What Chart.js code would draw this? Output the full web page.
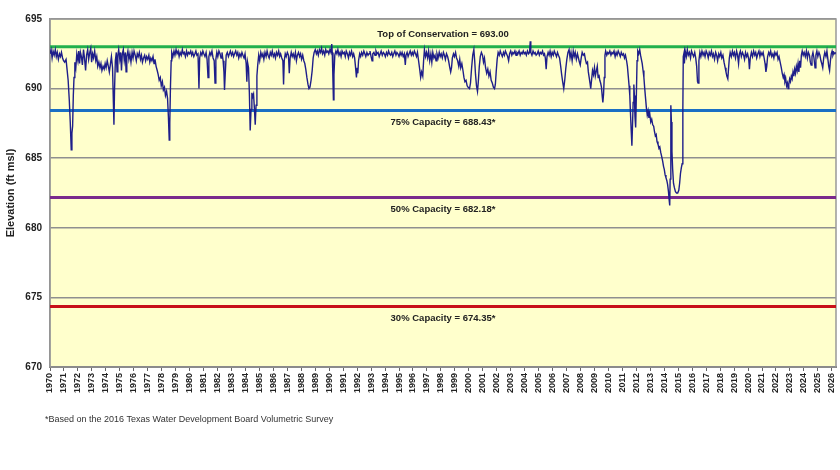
<!DOCTYPE html>
<html><head><meta charset="utf-8">
<script src="https://cdn.jsdelivr.net/npm/chart.js@4/dist/chart.umd.min.js"></script>
<style>html,body{margin:0;padding:0;background:#fff;}#wrap{position:relative;width:840px;height:470px;}</style>
</head><body><div id="wrap"><canvas id="c" width="840" height="470"></canvas></div>
<script>
// ---- DATA ----
const yearTicks = [];
for (let y = 1970; y <= 2026; y++) yearTicks.push(y);
const elevTicks = [670, 675, 680, 685, 690, 695];
const refLevels = [693.00, 688.43, 682.18, 674.35];
const refLabels = ["Top of Conservation = 693.00", "75% Capacity = 688.43*", "50% Capacity = 682.18*", "30% Capacity = 674.35*"];
const footnote = "*Based on the 2016 Texas Water Development Board Volumetric Survey";
const axisTitle = "Elevation (ft msl)";

// [decimal year, elevation ft msl]
const elevationSeries = [
[1970.00,692.5],[1970.08,692.8],[1970.15,692.2],[1970.22,692.7],[1970.30,692.4],[1970.38,692.8],[1970.45,692.3],[1970.52,692.6],[1970.60,692.1],[1970.68,692.5],[1970.75,692.3],[1970.82,692.6],[1970.90,692.2],[1970.97,692.0],
[1971.05,691.9],[1971.15,692.1],[1971.22,691.4],[1971.30,690.6],[1971.38,689.2],[1971.45,687.6],[1971.52,685.6],[1971.57,686.8],[1971.62,687.3],[1971.67,689.5],[1971.72,690.8],[1971.78,691.9],[1971.85,691.5],[1971.92,692.5],
[1972.00,692.0],[1972.06,692.7],[1972.12,691.8],[1972.18,692.6],[1972.25,692.3],[1972.32,691.7],[1972.40,692.8],[1972.47,692.2],[1972.55,691.3],[1972.62,692.4],[1972.70,692.8],[1972.77,692.1],[1972.85,692.6],[1972.92,692.9],[1972.98,691.9],
[1973.05,692.5],[1973.12,692.2],[1973.20,692.7],[1973.28,692.0],[1973.35,692.3],[1973.42,691.6],[1973.50,691.9],[1973.58,691.5],[1973.65,691.8],[1973.72,691.3],[1973.80,691.6],[1973.88,691.4],[1973.95,691.8],
[1974.02,691.5],[1974.10,692.0],[1974.18,691.6],[1974.25,691.2],[1974.32,691.7],[1974.40,692.3],[1974.48,691.5],[1974.54,689.0],[1974.58,687.4],[1974.62,689.8],[1974.68,692.0],[1974.75,692.6],[1974.80,691.2],[1974.86,692.4],[1974.92,692.8],
[1975.00,692.1],[1975.06,692.6],[1975.12,691.3],[1975.18,692.5],[1975.25,692.8],[1975.32,692.0],[1975.40,692.6],[1975.45,691.2],[1975.50,692.3],[1975.58,692.7],[1975.65,692.1],[1975.72,692.5],[1975.80,691.9],[1975.88,692.6],[1975.95,692.2],
[1976.02,692.7],[1976.10,692.4],[1976.18,692.0],[1976.25,692.5],[1976.32,692.3],[1976.40,692.6],[1976.48,692.1],[1976.55,692.4],[1976.62,691.9],[1976.70,692.2],[1976.78,692.4],[1976.85,692.0],[1976.92,692.3],
[1977.00,692.1],[1977.08,692.4],[1977.15,691.9],[1977.22,692.2],[1977.30,692.0],[1977.38,692.3],[1977.45,691.8],[1977.52,692.1],[1977.60,691.6],[1977.68,691.3],[1977.75,691.0],[1977.82,690.6],[1977.90,690.8],[1977.97,690.2],
[1978.05,690.5],[1978.12,689.9],[1978.20,690.1],[1978.27,689.5],[1978.35,689.8],[1978.42,689.3],[1978.48,688.0],[1978.54,686.3],[1978.58,687.5],[1978.63,690.2],[1978.68,692.0],[1978.72,692.6],[1978.80,692.3],[1978.88,692.7],[1978.95,692.4],
[1979.03,692.8],[1979.10,692.5],[1979.18,692.7],[1979.25,692.3],[1979.32,692.6],[1979.40,692.4],[1979.48,692.8],[1979.55,692.5],[1979.62,692.6],[1979.70,692.3],[1979.78,692.7],[1979.85,692.4],[1979.92,692.6],
[1980.00,692.5],[1980.08,692.7],[1980.15,692.4],[1980.22,692.6],[1980.30,692.3],[1980.38,692.5],[1980.45,692.7],[1980.52,692.4],[1980.60,692.5],[1980.67,690.0],[1980.72,692.2],[1980.80,692.6],[1980.88,692.4],[1980.95,692.7],
[1981.02,692.5],[1981.10,692.3],[1981.18,692.6],[1981.25,692.1],[1981.32,690.8],[1981.38,692.3],[1981.45,692.6],[1981.52,692.4],[1981.60,692.7],[1981.68,692.2],[1981.76,692.0],[1981.82,690.4],[1981.88,692.1],[1981.95,692.6],
[1982.02,692.3],[1982.10,692.7],[1982.18,692.5],[1982.25,692.2],[1982.32,692.6],[1982.40,692.0],[1982.46,691.2],[1982.50,689.9],[1982.55,691.0],[1982.62,692.4],[1982.70,692.6],[1982.78,692.3],[1982.85,692.5],[1982.92,692.7],
[1983.00,692.4],[1983.08,692.6],[1983.15,692.3],[1983.22,692.5],[1983.30,692.7],[1983.38,692.4],[1983.45,692.6],[1983.52,692.2],[1983.60,692.5],[1983.68,692.3],[1983.75,692.6],[1983.82,692.4],[1983.90,692.2],[1983.97,692.5],
[1984.05,691.8],[1984.10,690.5],[1984.15,691.9],[1984.22,691.5],[1984.28,689.7],[1984.34,687.0],[1984.40,688.5],[1984.46,689.7],[1984.52,689.4],[1984.58,689.6],[1984.64,688.6],[1984.70,687.4],[1984.76,688.8],[1984.82,690.9],[1984.88,691.7],[1984.95,692.4],
[1985.02,692.0],[1985.10,692.6],[1985.18,692.3],[1985.25,692.5],[1985.32,692.1],[1985.40,692.6],[1985.48,692.3],[1985.55,692.7],[1985.62,692.4],[1985.70,692.2],[1985.78,692.6],[1985.85,692.4],[1985.92,692.7],
[1986.00,692.3],[1986.08,692.5],[1986.15,692.2],[1986.22,692.6],[1986.30,692.4],[1986.38,692.7],[1986.45,692.3],[1986.52,692.5],[1986.60,692.2],[1986.68,692.0],[1986.73,690.3],[1986.78,692.0],[1986.85,692.5],[1986.92,692.3],
[1987.00,692.6],[1987.08,692.4],[1987.14,691.1],[1987.20,692.2],[1987.28,692.6],[1987.35,692.3],[1987.42,692.5],[1987.50,692.2],[1987.58,692.6],[1987.65,692.0],[1987.72,692.4],[1987.80,692.6],[1987.88,692.3],[1987.95,692.5],
[1988.02,692.1],[1988.10,692.4],[1988.18,692.0],[1988.25,691.8],[1988.32,691.4],[1988.40,690.8],[1988.48,690.3],[1988.55,690.0],[1988.62,690.1],[1988.70,690.6],[1988.78,691.3],[1988.85,692.2],[1988.92,692.6],
[1989.00,692.8],[1989.08,692.5],[1989.15,692.7],[1989.22,692.4],[1989.30,692.8],[1989.38,692.6],[1989.45,692.9],[1989.52,692.5],[1989.60,692.7],[1989.68,692.4],[1989.75,692.8],[1989.82,692.6],[1989.90,692.7],[1989.97,692.5],
[1990.05,692.8],[1990.12,692.6],[1990.18,693.2],[1990.22,692.6],[1990.27,690.5],[1990.30,689.2],[1990.34,691.0],[1990.40,692.4],[1990.48,692.7],[1990.55,692.5],[1990.62,692.8],[1990.70,692.4],[1990.78,692.6],[1990.85,692.3],[1990.92,692.7],
[1991.00,692.5],[1991.08,692.6],[1991.15,692.3],[1991.22,692.7],[1991.30,692.5],[1991.38,692.2],[1991.45,692.6],[1991.52,692.4],[1991.60,692.7],[1991.68,692.3],[1991.75,692.5],[1991.82,692.2],[1991.88,691.6],[1991.95,690.8],
[1992.00,691.5],[1992.05,691.1],[1992.10,692.0],[1992.18,692.5],[1992.25,692.3],[1992.32,692.6],[1992.40,692.4],[1992.48,692.7],[1992.55,692.5],[1992.62,692.3],[1992.70,692.6],[1992.78,692.4],[1992.85,692.5],[1992.92,692.7],
[1993.00,692.3],[1993.07,692.0],[1993.12,692.5],[1993.20,692.6],[1993.28,692.4],[1993.35,692.7],[1993.42,692.5],[1993.50,692.6],[1993.58,692.3],[1993.65,692.5],[1993.72,692.7],[1993.80,692.4],[1993.88,692.6],[1993.95,692.5],
[1994.02,692.3],[1994.10,692.6],[1994.18,692.4],[1994.25,692.7],[1994.32,692.5],[1994.40,692.4],[1994.48,692.6],[1994.55,692.3],[1994.62,692.5],[1994.70,692.7],[1994.78,692.4],[1994.85,692.6],[1994.92,692.5],
[1995.00,692.3],[1995.08,692.6],[1995.15,692.4],[1995.22,692.6],[1995.30,692.3],[1995.38,692.5],[1995.45,691.7],[1995.50,692.4],[1995.58,692.6],[1995.65,692.3],[1995.72,692.5],[1995.80,692.7],[1995.88,692.4],[1995.95,692.6],
[1996.02,692.4],[1996.10,692.7],[1996.18,692.5],[1996.25,692.3],[1996.32,692.6],[1996.40,692.0],[1996.48,691.4],[1996.55,690.8],[1996.62,691.2],[1996.70,690.9],[1996.76,692.0],[1996.82,692.8],[1996.90,692.3],[1996.97,692.6],
[1997.05,692.2],[1997.12,692.7],[1997.20,692.0],[1997.28,692.5],[1997.35,691.9],[1997.42,692.6],[1997.50,692.2],[1997.58,692.4],[1997.65,692.0],[1997.72,692.5],[1997.80,692.2],[1997.88,692.6],[1997.95,692.3],
[1998.02,692.5],[1998.10,692.2],[1998.18,692.6],[1998.25,692.4],[1998.32,692.1],[1998.40,692.5],[1998.48,692.3],[1998.55,692.0],[1998.62,691.6],[1998.70,691.2],[1998.76,691.5],[1998.82,692.2],[1998.90,692.5],[1998.97,692.3],
[1999.05,692.6],[1999.12,692.2],[1999.20,692.0],[1999.28,691.6],[1999.35,692.1],[1999.42,691.5],[1999.50,691.8],[1999.58,691.3],[1999.65,690.8],[1999.72,690.5],[1999.80,690.6],[1999.88,690.2],[1999.95,690.1],
[2000.05,690.0],[2000.12,690.4],[2000.20,691.5],[2000.28,692.4],[2000.36,692.8],[2000.42,692.0],[2000.48,691.0],[2000.55,690.2],[2000.62,689.8],[2000.68,690.5],[2000.75,691.6],[2000.82,692.3],[2000.90,692.6],[2000.98,692.4],
[2001.05,691.9],[2001.12,692.2],[2001.20,691.5],[2001.28,691.1],[2001.36,691.4],[2001.44,690.9],[2001.52,691.2],[2001.60,690.6],[2001.68,690.4],[2001.76,690.1],[2001.84,690.0],[2001.90,690.3],[2001.96,691.2],
[2002.03,692.1],[2002.10,692.6],[2002.18,692.4],[2002.25,692.7],[2002.32,692.5],[2002.40,692.3],[2002.48,692.6],[2002.55,692.4],[2002.62,692.7],[2002.70,692.5],[2002.78,692.3],[2002.85,692.0],[2002.92,692.5],
[2003.00,692.7],[2003.08,692.4],[2003.15,692.6],[2003.22,692.5],[2003.30,692.7],[2003.38,692.4],[2003.45,692.6],[2003.52,692.5],[2003.60,692.7],[2003.68,692.4],[2003.75,692.6],[2003.82,692.5],[2003.90,692.7],[2003.97,692.5],
[2004.05,692.6],[2004.12,692.4],[2004.20,692.7],[2004.28,692.5],[2004.35,692.6],[2004.40,693.4],[2004.44,692.6],[2004.52,692.4],[2004.60,692.7],[2004.68,692.5],[2004.75,692.6],[2004.82,692.4],[2004.90,692.5],[2004.97,692.7],
[2005.05,692.4],[2005.12,692.6],[2005.20,692.5],[2005.28,692.7],[2005.35,692.4],[2005.42,692.5],[2005.48,692.2],[2005.54,691.4],[2005.60,692.3],[2005.68,692.6],[2005.75,692.4],[2005.82,692.7],[2005.90,692.3],[2005.97,692.6],
[2006.05,692.4],[2006.12,692.7],[2006.20,692.5],[2006.28,692.3],[2006.35,692.6],[2006.42,692.4],[2006.50,692.2],[2006.58,691.6],[2006.65,691.0],[2006.72,690.5],[2006.80,690.0],[2006.87,690.6],[2006.94,691.4],
[2007.02,692.1],[2007.10,692.6],[2007.18,692.8],[2007.25,692.2],[2007.32,692.6],[2007.40,692.0],[2007.48,692.7],[2007.55,692.3],[2007.62,692.6],[2007.70,692.1],[2007.78,692.5],[2007.85,692.2],[2007.92,691.9],[2007.98,691.7],
[2008.05,692.2],[2008.12,692.6],[2008.20,692.4],[2008.28,692.5],[2008.35,692.1],[2008.42,691.8],[2008.50,691.9],[2008.56,691.2],[2008.62,690.8],[2008.68,690.4],[2008.73,690.0],[2008.80,690.7],[2008.86,691.3],[2008.93,691.0],
[2009.00,691.5],[2009.06,690.9],[2009.12,691.2],[2009.20,691.6],[2009.26,690.8],[2009.32,691.0],[2009.38,690.6],[2009.44,690.4],[2009.50,690.1],[2009.56,689.4],[2009.60,689.0],[2009.65,689.6],[2009.70,690.8],[2009.75,692.4],[2009.80,692.7],[2009.88,692.4],[2009.95,692.6],
[2010.02,692.5],[2010.10,692.7],[2010.18,692.4],[2010.25,692.6],[2010.32,692.5],[2010.40,692.7],[2010.48,692.3],[2010.55,692.6],[2010.62,692.4],[2010.70,692.7],[2010.78,692.5],[2010.85,692.3],[2010.92,692.6],
[2011.00,692.4],[2011.08,692.5],[2011.15,692.2],[2011.22,692.4],[2011.30,692.0],[2011.36,691.6],[2011.42,690.9],[2011.48,690.2],[2011.53,689.5],[2011.58,688.2],[2011.63,687.0],[2011.68,685.9],[2011.72,687.2],[2011.77,689.0],[2011.82,690.3],[2011.86,689.5],[2011.90,688.0],[2011.95,687.2],
[2012.00,689.5],[2012.05,692.0],[2012.10,692.7],[2012.17,692.5],[2012.24,692.8],[2012.30,692.4],[2012.36,692.1],[2012.42,691.8],[2012.48,691.3],[2012.54,690.8],[2012.60,690.0],[2012.66,689.3],[2012.72,688.6],[2012.78,688.1],[2012.84,688.4],[2012.90,687.9],[2012.96,688.2],
[2013.03,687.6],[2013.10,687.8],[2013.17,687.4],[2013.24,687.3],[2013.30,686.9],[2013.36,686.6],[2013.42,686.7],[2013.48,686.2],[2013.55,686.0],[2013.62,685.7],[2013.68,685.8],[2013.75,685.4],[2013.82,685.1],[2013.88,684.8],[2013.95,684.4],
[2014.00,684.2],[2014.06,683.8],[2014.12,683.6],[2014.18,683.4],[2014.24,683.1],[2014.30,682.6],[2014.35,682.0],[2014.39,681.6],[2014.42,683.5],[2014.46,687.0],[2014.48,688.8],[2014.51,687.6],[2014.55,685.5],[2014.60,684.2],[2014.66,683.2],[2014.72,682.9],[2014.80,682.6],[2014.88,682.5],[2014.96,682.5],
[2015.04,682.7],[2015.10,683.2],[2015.16,683.9],[2015.22,684.3],[2015.28,684.6],[2015.33,688.5],[2015.36,692.3],[2015.42,692.6],[2015.44,691.8],[2015.50,692.7],[2015.58,692.3],[2015.65,692.8],[2015.72,692.4],[2015.80,692.6],[2015.88,692.2],[2015.95,692.7],
[2016.02,692.5],[2016.10,692.3],[2016.18,692.6],[2016.25,692.2],[2016.32,691.6],[2016.38,690.5],[2016.42,690.4],[2016.48,692.0],[2016.55,692.6],[2016.62,692.3],[2016.70,692.7],[2016.78,692.4],[2016.85,692.6],[2016.92,692.3],
[2017.00,692.7],[2017.08,692.5],[2017.15,692.2],[2017.22,692.6],[2017.30,692.4],[2017.38,692.7],[2017.45,692.3],[2017.52,692.5],[2017.60,692.1],[2017.68,692.6],[2017.75,692.4],[2017.82,692.0],[2017.90,692.5],[2017.97,692.3],
[2018.05,692.6],[2018.12,692.2],[2018.20,692.4],[2018.28,691.9],[2018.36,691.5],[2018.42,691.2],[2018.48,690.9],[2018.55,690.7],[2018.60,691.4],[2018.66,692.2],[2018.72,692.6],[2018.80,692.3],[2018.88,692.7],[2018.95,692.4],
[2019.02,692.6],[2019.10,692.2],[2019.18,692.7],[2019.25,692.4],[2019.32,691.8],[2019.38,692.5],[2019.45,692.7],[2019.52,692.3],[2019.60,692.6],[2019.68,692.4],[2019.75,692.1],[2019.82,692.6],[2019.90,692.3],[2019.97,692.5],
[2020.05,692.1],[2020.10,691.4],[2020.16,692.2],[2020.24,692.6],[2020.32,692.3],[2020.40,692.7],[2020.48,692.4],[2020.55,692.6],[2020.62,692.2],[2020.70,692.5],[2020.78,692.7],[2020.85,692.3],[2020.92,692.6],
[2021.00,692.4],[2021.08,692.6],[2021.15,692.2],[2021.22,691.8],[2021.28,691.2],[2021.34,691.6],[2021.40,692.3],[2021.48,692.6],[2021.55,692.4],[2021.62,692.7],[2021.70,692.3],[2021.78,692.5],[2021.85,692.2],[2021.92,692.6],
[2022.00,692.4],[2022.08,692.6],[2022.15,692.1],[2022.22,692.3],[2022.30,691.9],[2022.38,691.5],[2022.45,691.1],[2022.52,690.8],[2022.58,691.0],[2022.64,690.5],[2022.70,690.7],[2022.76,690.2],[2022.82,690.4],[2022.87,690.0],[2022.92,690.3],[2022.98,690.7],
[2023.04,690.5],[2023.10,690.9],[2023.16,690.7],[2023.22,691.2],[2023.28,690.9],[2023.34,691.4],[2023.40,691.1],[2023.46,691.6],[2023.52,691.3],[2023.58,691.8],[2023.64,691.2],[2023.70,692.0],[2023.76,691.5],[2023.82,692.4],[2023.88,692.7],[2023.95,692.4],
[2024.02,692.6],[2024.10,692.3],[2024.18,692.7],[2024.25,692.2],[2024.32,692.6],[2024.40,692.4],[2024.46,691.9],[2024.52,691.7],[2024.58,692.3],[2024.65,692.6],[2024.72,692.2],[2024.80,691.5],[2024.86,692.4],[2024.93,692.7],
[2025.00,692.3],[2025.08,692.6],[2025.15,692.4],[2025.22,692.0],[2025.28,691.8],[2025.35,691.5],[2025.42,692.2],[2025.50,692.6],[2025.58,692.3],[2025.65,692.7],[2025.72,692.1],[2025.78,691.6],[2025.84,691.3],[2025.90,692.0],[2025.96,692.5],
[2026.02,692.7],[2026.08,692.4],[2026.15,692.6],[2026.22,692.5],[2026.28,692.6]
];

// ---- STYLE ----
const refColors = ['#22b14c', '#1a6fc4', '#7a2a8c', '#c8101a'];
const X_MIN = 1970, X_MAX = 2026.3;
const FONT = "'Liberation Sans', Arial, sans-serif";
Chart.defaults.font.family = FONT;

const decor = {
  id: 'decor',
  beforeDraw(chart) {
    const {ctx, chartArea: a} = chart;
    ctx.save();
    ctx.fillStyle = '#ffffff';
    ctx.fillRect(0, 0, chart.width, chart.height);
    ctx.fillStyle = '#ffffcc';
    ctx.fillRect(a.left, a.top, a.right - a.left, a.bottom - a.top);
    ctx.restore();
  },
  beforeDatasetsDraw(chart) {
    const {ctx, chartArea: a} = chart;
    ctx.save();
    ctx.strokeStyle = '#999999';
    ctx.lineWidth = 1.5;
    ctx.strokeRect(a.left, a.top, a.right - a.left, a.bottom - a.top);
    ctx.restore();
  },
  afterDraw(chart) {
    const {ctx, chartArea: a, scales} = chart;
    const cx = 443;
    ctx.save();
    ctx.fillStyle = '#222';
    ctx.textAlign = 'center';
    ctx.textBaseline = 'middle';
    ctx.font = "bold 9.5px " + FONT;
    refLevels.forEach((v, i) => {
      const py = scales.y.getPixelForValue(v);
      const off = i === 0 ? -12 : 12;
      ctx.fillText(refLabels[i], cx, py + off);
    });
    ctx.textAlign = 'left';
    ctx.font = "9px " + FONT;
    ctx.fillStyle = '#333';
    ctx.fillText(footnote, 45, 420);
    ctx.restore();
  }
};

const datasets = [{
  label: 'Elevation',
  data: elevationSeries.map(p => ({x: p[0], y: p[1]})),
  borderColor: '#1e1e8a',
  borderWidth: 1.4,
  pointRadius: 0,
  tension: 0,
  order: 0
}].concat(refLevels.map((v, i) => ({
  label: refLabels[i],
  data: [{x: X_MIN, y: v}, {x: X_MAX, y: v}],
  borderColor: refColors[i],
  borderWidth: 3,
  pointRadius: 0,
  order: 1
})));

new Chart(document.getElementById('c'), {
  type: 'line',
  data: {datasets},
  plugins: [decor],
  options: {
    responsive: false,
    animation: false,
    events: [],
    layout: {padding: {top: 19, right: 4, left: 0, bottom: 0}},
    plugins: {legend: {display: false}, tooltip: {enabled: false}},
    scales: {
      x: {
        type: 'linear', min: X_MIN, max: X_MAX,
        afterBuildTicks(s) { s.ticks = yearTicks.map(v => ({value: v})); },
        afterFit(s) { s.height = 103; s.paddingLeft = 0; s.paddingRight = 0; },
        ticks: {autoSkip: false, maxRotation: 90, minRotation: 90, padding: 2,
          color: '#222', font: {weight: 'bold', size: 9},
          callback: v => String(v)},
        grid: {drawOnChartArea: false, drawTicks: true, tickLength: 4, color: '#666', lineWidth: 1},
        border: {color: '#666', width: 2}
      },
      y: {
        min: 670, max: 695,
        afterBuildTicks(s) { s.ticks = elevTicks.map(v => ({value: v})); },
        afterFit(s) { s.width = 50; s.paddingTop = 0; s.paddingBottom = 0; },
        ticks: {padding: 8, color: '#222', font: {weight: 'bold', size: 10}},
        grid: {color: '#8f8f8f', lineWidth: 1.5, drawTicks: false},
        border: {color: '#888', width: 1.5},
        title: {display: true, text: axisTitle, color: '#222', font: {weight: 'bold', size: 11}, padding: {top: 4, bottom: 0}}
      }
    }
  }
});
</script>
</body></html>
